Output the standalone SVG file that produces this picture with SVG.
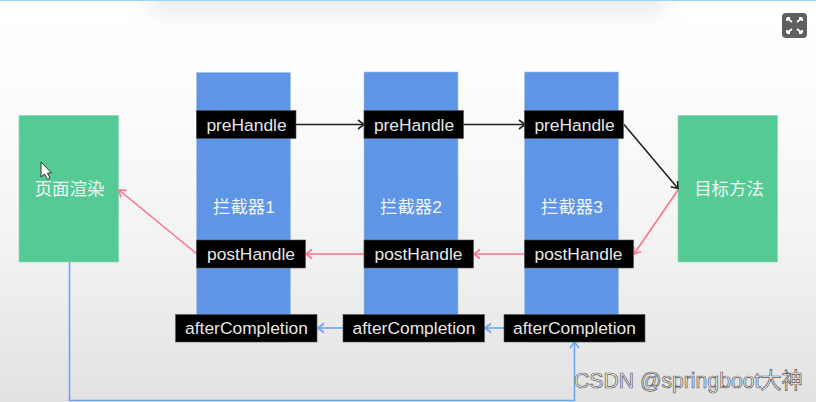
<svg xmlns="http://www.w3.org/2000/svg" width="816" height="402" viewBox="0 0 816 402">
<style>
text{font-family:"Liberation Sans","Noto Sans CJK SC",sans-serif}
.g{fill:#56ca94;stroke:#8fd4b3;stroke-width:.6}
.b{fill:#5e95e6;stroke:#a9c4ec;stroke-width:.6}
.k{fill:#000;stroke:#555;stroke-width:.6}
.l{fill:#e6e6e6;font-size:17.4px;text-anchor:middle}
.t{fill:#f0f4f4;font-size:17.4px;text-anchor:middle}
.c{fill:none;stroke-width:1.6}
</style>
<defs>
<linearGradient id="bg" x1="0" y1="0" x2="0" y2="1"><stop offset="0" stop-color="#fff"/><stop offset=".2" stop-color="#fdfdfd"/><stop offset=".6" stop-color="#f3f3f3"/><stop offset="1" stop-color="#e2e2e2"/></linearGradient>
<filter id="bl" x="-10%" y="-150%" width="120%" height="400%"><feGaussianBlur stdDeviation="11"/></filter>
<filter id="soft" x="-5%" y="-20%" width="110%" height="140%"><feGaussianBlur stdDeviation=".5"/></filter>
<marker id="ak" markerUnits="userSpaceOnUse" markerWidth="12" markerHeight="12" refX="9" refY="6" orient="auto"><path d="M3 1.500L9 6L3 10.500" fill="none" stroke="#222" stroke-width="1.600"/></marker>
<marker id="ar" markerUnits="userSpaceOnUse" markerWidth="12" markerHeight="12" refX="9" refY="6" orient="auto"><path d="M3 1.500L9 6L3 10.500" fill="none" stroke="#f7748a" stroke-width="1.600"/></marker>
<marker id="ab" markerUnits="userSpaceOnUse" markerWidth="12" markerHeight="12" refX="9" refY="6" orient="auto"><path d="M3 1.500L9 6L3 10.500" fill="none" stroke="#6fa3ee" stroke-width="1.600"/></marker>
</defs>
<rect width="816" height="402" fill="url(#bg)"/>
<rect x="150" y="-16" width="515" height="28" fill="#e8e8e8" filter="url(#bl)"/>
<rect width="816" height="1" fill="#9cd4f2"/>
<g id="expand-button"><rect x="782" y="13" width="25" height="25" rx="4" fill="#5f5f5f"/><path d="M787 18l5 4M787 18h3M787 18v3M802 18l-5 4M802 18h-3M802 18v3M787 33l5-4M787 33h3M787 33v-3M802 33l-5-4M802 33h-3M802 33v-3" stroke="#fff" stroke-width="1.800" fill="none"/></g>
<g id="blocks">
<g id="interceptor1"><rect class="b" x="196.500" y="72.500" width="94" height="269.500"/><text class="t" x="244" y="213">拦截器1</text></g>
<g id="interceptor2"><rect class="b" x="364" y="72" width="94" height="270"/><text class="t" x="411" y="213">拦截器2</text></g>
<g id="interceptor3"><rect class="b" x="524.500" y="72" width="94" height="270"/><text class="t" x="572" y="213">拦截器3</text></g>
<g id="render"><rect class="g" x="19" y="115.500" width="99.500" height="146.500"/><text class="t" x="69.500" y="195">页面渲染</text></g>
<g id="target"><rect class="g" x="678" y="115.500" width="99.500" height="146.500"/><text class="t" x="729" y="195">目标方法</text></g>
</g>
<g id="connectors" class="c">
<path class="c" d="M296 124.500H364" stroke="#222" marker-end="url(#ak)"/>
<path class="c" d="M463 124.500H525" stroke="#222" marker-end="url(#ak)"/>
<path class="c" d="M624 124.500L678 188.500" stroke="#222" marker-end="url(#ak)"/>
<path class="c" d="M678 190L634 254" stroke="#f7748a" marker-end="url(#ar)"/>
<path class="c" d="M524 254H474" stroke="#f7748a" marker-end="url(#ar)"/>
<path class="c" d="M369 254H306" stroke="#f7748a" marker-end="url(#ar)"/>
<path class="c" d="M197 254L119 190" stroke="#f7748a" marker-end="url(#ar)"/>
<path class="c" d="M504 328H485" stroke="#6fa3ee" marker-end="url(#ab)"/>
<path class="c" d="M343 328H318" stroke="#6fa3ee" marker-end="url(#ab)"/>
<path class="c" d="M69.500 262V400.500H574.500V342" stroke="#6fa3ee" marker-end="url(#ab)"/>
</g>
<g id="pre1"><rect class="k" x="196.500" y="110.500" width="99.500" height="28"/><text class="l" x="246.500" y="130.500">preHandle</text></g>
<g id="pre2"><rect class="k" x="364" y="110.500" width="99.500" height="28"/><text class="l" x="414" y="130.500">preHandle</text></g>
<g id="pre3"><rect class="k" x="524.500" y="110.500" width="99" height="28"/><text class="l" x="574.500" y="130.500">preHandle</text></g>
<g id="post1"><rect class="k" x="196.500" y="240" width="109" height="28"/><text class="l" x="251" y="260">postHandle</text></g>
<g id="post2"><rect class="k" x="364" y="240" width="109.500" height="28"/><text class="l" x="418.500" y="260">postHandle</text></g>
<g id="post3"><rect class="k" x="524.500" y="240" width="109" height="28"/><text class="l" x="578.500" y="260">postHandle</text></g>
<g id="after1"><rect class="k" x="175.500" y="314.500" width="141.500" height="27.500"/><text class="l" x="246.500" y="334">afterCompletion</text></g>
<g id="after2"><rect class="k" x="343" y="314.500" width="141.500" height="27.500"/><text class="l" x="414" y="334">afterCompletion</text></g>
<g id="after3"><rect class="k" x="504" y="314.500" width="141" height="27.500"/><text class="l" x="574.500" y="334">afterCompletion</text></g>
<path id="cursor" d="M41 162V177L44.500 174L47.500 179.500L50 178L47.500 173H51.500Z" fill="#fff" stroke="#333" stroke-width="1"/>
<text id="watermark" x="574" y="387.500" font-size="21.200" fill="#f2f2f2" stroke="#5a5a5a" stroke-width=".7">CSDN @springboot大神</text>
</svg>
